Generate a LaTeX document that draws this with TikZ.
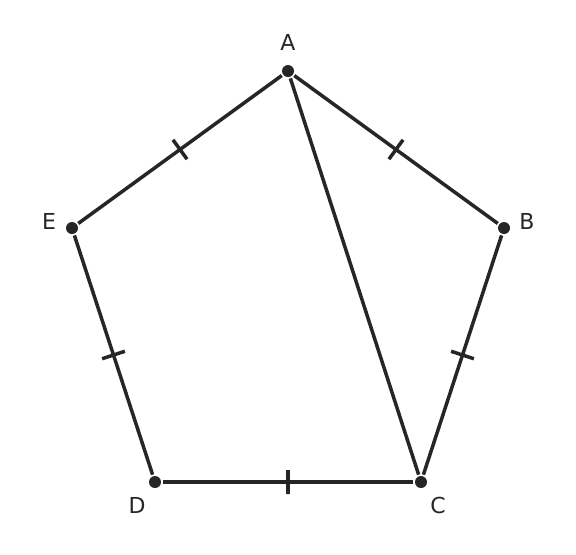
\documentclass[tikz,border=0pt]{standalone}
\usepackage{fontspec}
\setsansfont{DejaVu Sans}
\definecolor{ink}{HTML}{262626}

\begin{document}
\begin{tikzpicture}[x=0.5pt,y=-0.5pt,-,line width=1.75pt,draw=ink,
    main node/.style={circle,fill=ink,inner sep=0pt,minimum size=6pt},
    lbl/.style={font=\sffamily\fontsize{11}{13}\selectfont,text=ink},
    tickmark/.style={draw=ink,line width=1.75pt,inner sep=0pt,minimum width=0pt,minimum height=12pt,sloped}]
                \useasboundingbox (0,0) rectangle (576,554);
                \node[main node] (A) at (288,71) {};
                \node[main node] (B) at (504,228) {};
                \node[main node] (C) at (421,482) {};
                \node[main node] (D) at (155,482) {};
                \node[main node] (E) at (72,228) {};

                \node[lbl] (lA) at (288,42) {A};
                \node[lbl] (lB) at (527,221) {B};
                \node[lbl] (lC) at (438,505) {C};
                \node[lbl] (lD) at (137,505) {D};
                \node[lbl] (lE) at (49,221) {E};

                \path[draw=ink]
                    (A) edge node[tickmark] {} (B)
                    (B) edge node[tickmark] {} (C)
                    (C) edge node[tickmark] {} (D)
                    (D) edge node[tickmark] {} (E)
                    (E) edge node[tickmark] {} (A)
                    (A) edge (C)
                    ;
            \end{tikzpicture}
\end{document}
